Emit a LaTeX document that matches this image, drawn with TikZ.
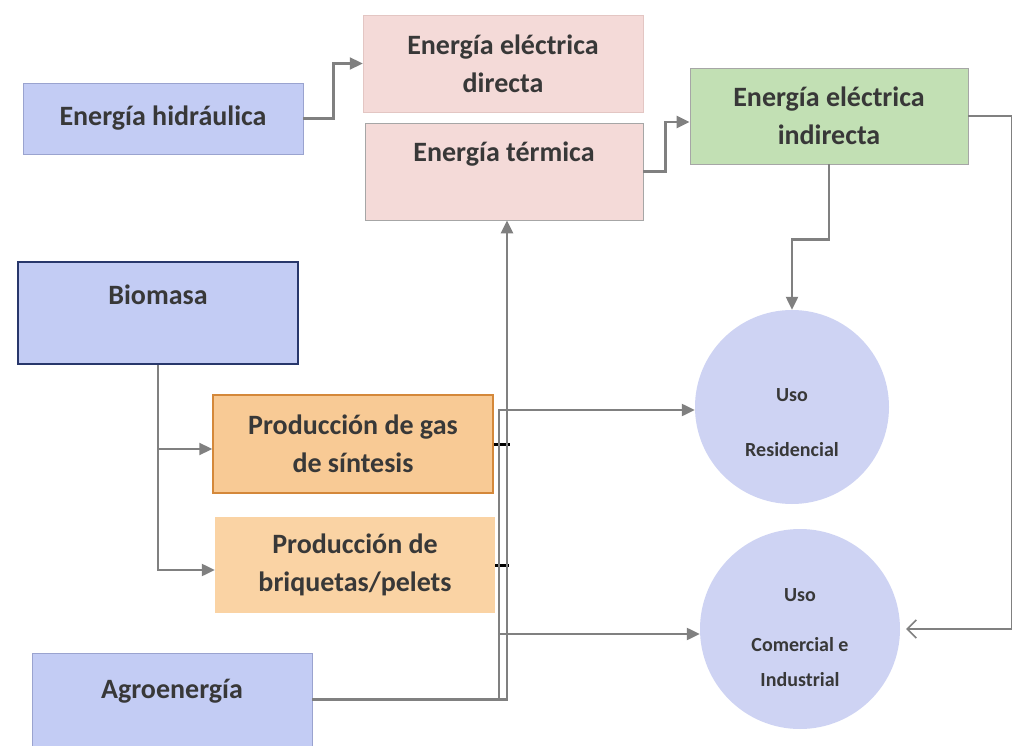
\documentclass[tikz,border=0pt]{standalone}
\usepackage{fontspec}
\setmainfont{Carlito}
\usetikzlibrary{arrows.meta}
\definecolor{txt}{HTML}{383838}
\definecolor{lineg}{HTML}{808080}
\definecolor{blueA}{HTML}{C3CCF4}
\definecolor{blueB}{HTML}{9AA3CF}
\definecolor{navy}{HTML}{28376B}
\definecolor{pinkA}{HTML}{F4DAD8}
\definecolor{pinkB}{HTML}{E3C6C3}
\definecolor{greenA}{HTML}{C2E0B4}
\definecolor{orangeA}{HTML}{F8CA95}
\definecolor{orangeB}{HTML}{D4883A}
\definecolor{orangeC}{HTML}{FAD3A4}
\definecolor{lav}{HTML}{CED3F3}
\begin{document}
\begin{tikzpicture}[x=1pt,y=-1pt,
  box/.style={rectangle, inner sep=0pt, align=center, text=txt,
    font=\bfseries\fontsize{28}{38}\selectfont},
  circ/.style={circle, inner sep=0pt, fill=lav, text=txt,
    font=\bfseries\fontsize{20}{24}\selectfont},
  conn/.style={draw=lineg, line width=2.3pt, -{Triangle[length=13pt,width=12pt]}},
  barb/.style={draw=lineg, line width=1.6pt, -{Straight Barb[length=9pt,width=18pt]}}]
\path[use as bounding box, fill=white] (0,0) rectangle (1013,746);

% boxes
\node[box, fill=blueA, draw=blueB, line width=0.8pt, minimum width=280pt, minimum height=71pt]
  (hid) at (163,118.5) {Energía hidráulica};
\node[box, fill=pinkA, draw=pinkB, line width=0.5pt, minimum width=280pt, minimum height=97pt]
  (dir) at (503,63.5) {Energía eléctrica\\directa};
\node[box, fill=pinkA, draw=lineg!70, line width=0.8pt, minimum width=278pt, minimum height=97pt,
  text height=22pt, text depth=42pt]
  (ter) at (504,171.5) {Energía térmica};
\node[box, fill=greenA, draw=lineg!70, line width=0.8pt, minimum width=278pt, minimum height=96pt]
  (ind) at (829,116) {Energía eléctrica\\indirecta};
\node[box, fill=blueA, draw=navy, line width=2pt, minimum width=280pt, minimum height=102pt,
  text height=22pt, text depth=38pt]
  (bio) at (158,313) {Biomasa};
\node[box, fill=orangeA, draw=orangeB, line width=1.5pt, minimum width=280pt, minimum height=98pt]
  (gas) at (353,444) {Producción de gas\\de síntesis};
\node[box, fill=orangeC, minimum width=280pt, minimum height=96pt]
  (briq) at (355,565) {Producción de\\briquetas/pelets};
\node[box, fill=blueA, draw=blueB, line width=0.8pt, minimum width=280pt, minimum height=93pt,
  text height=22pt, text depth=24pt]
  (agro) at (172,699.5) {Agroenergía};

% circles
\node[circ, minimum size=194pt] (res) at (792,407)
  {\begin{tabular}{@{}c@{}}\rule{0pt}{51pt}Uso\\[31pt]Residencial\end{tabular}};
\node[circ, minimum size=200pt] (com) at (800,629)
  {\begin{tabular}{@{}c@{}}\rule{0pt}{37pt}Uso\\[26pt]Comercial e\\[11pt]Industrial\end{tabular}};

% black joints
\draw[black, line width=3pt] (gas.east) -- ++(16,0);
\draw[black, line width=3pt] (briq.east) -- ++(14,0);

% connectors
\draw[conn] (hid.east) -- ++(30,0) |- (dir.west);
\draw[conn] (ter.east) -- ++(22,0) |- ([yshift=-6pt]ind.west);
\draw[conn] (ind.south) -- ++(0,75) -| (res.north);
\draw[barb, shorten >=6pt] (ind.east) -- ++(43,0) |- (com.east);
\draw[conn] (bio.south) |- ([yshift=-5pt]gas.west);
\draw[conn] (bio.south) |- ([yshift=-5pt]briq.west);
\draw[conn] (agro.east) -| ([xshift=3pt]ter.south);
\coordinate (jn) at (499,699.5);
\draw[conn] (jn) |- ([yshift=-3pt]res.west);
\draw[conn] (jn |- com.west) ++(0,5) -- ([yshift=-5pt]com.west);
\end{tikzpicture}
\end{document}
